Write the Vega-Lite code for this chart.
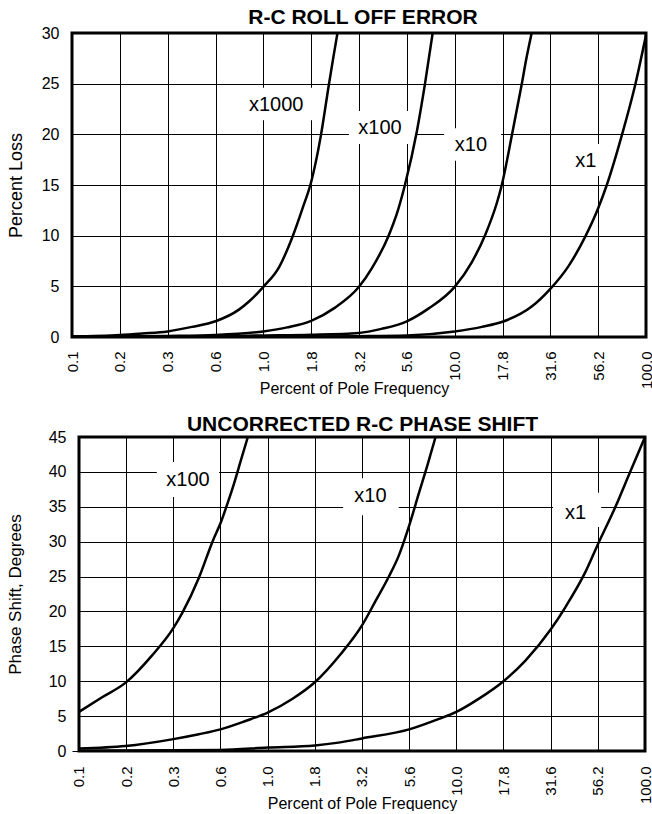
{
  "$schema": "https://vega.github.io/schema/vega-lite/v6.json",
  "padding": {"left": 5, "top": 5, "right": 0, "bottom": 0},
  "spacing": 16,
  "datasets": {
    "loss": [
      {"s": "x1000", "i": 0, "v": 0.05}, {"s": "x1000", "i": 1, "v": 0.2}, {"s": "x1000", "i": 1.47, "v": 0.35}, {"s": "x1000", "i": 2, "v": 0.55}, {"s": "x1000", "i": 2.51, "v": 1.0}, {"s": "x1000", "i": 3, "v": 1.55}, {"s": "x1000", "i": 3.49, "v": 2.7}, {"s": "x1000", "i": 3.7, "v": 3.5}, {"s": "x1000", "i": 4, "v": 4.95}, {"s": "x1000", "i": 4.33, "v": 6.9}, {"s": "x1000", "i": 4.61, "v": 9.9}, {"s": "x1000", "i": 4.82, "v": 12.7}, {"s": "x1000", "i": 5, "v": 15.3}, {"s": "x1000", "i": 5.2, "v": 19.8}, {"s": "x1000", "i": 5.37, "v": 24.9}, {"s": "x1000", "i": 5.46, "v": 27.5}, {"s": "x1000", "i": 5.55, "v": 30},
      {"s": "x100", "i": 0, "v": 0.02}, {"s": "x100", "i": 1, "v": 0.05}, {"s": "x100", "i": 2, "v": 0.1}, {"s": "x100", "i": 3, "v": 0.2}, {"s": "x100", "i": 4, "v": 0.55}, {"s": "x100", "i": 4.5, "v": 0.95}, {"s": "x100", "i": 5, "v": 1.6}, {"s": "x100", "i": 5.5, "v": 2.9}, {"s": "x100", "i": 6, "v": 4.95}, {"s": "x100", "i": 6.27, "v": 6.8}, {"s": "x100", "i": 6.61, "v": 9.9}, {"s": "x100", "i": 6.82, "v": 12.6}, {"s": "x100", "i": 6.96, "v": 15}, {"s": "x100", "i": 7.21, "v": 20.3}, {"s": "x100", "i": 7.38, "v": 25}, {"s": "x100", "i": 7.54, "v": 30},
      {"s": "x10", "i": 0, "v": 0.02}, {"s": "x10", "i": 2, "v": 0.03}, {"s": "x10", "i": 4, "v": 0.15}, {"s": "x10", "i": 5, "v": 0.22}, {"s": "x10", "i": 6, "v": 0.4}, {"s": "x10", "i": 6.47, "v": 0.8}, {"s": "x10", "i": 7, "v": 1.55}, {"s": "x10", "i": 7.45, "v": 2.8}, {"s": "x10", "i": 8, "v": 4.95}, {"s": "x10", "i": 8.36, "v": 7.4}, {"s": "x10", "i": 8.64, "v": 10.1}, {"s": "x10", "i": 8.88, "v": 13.2}, {"s": "x10", "i": 8.98, "v": 14.9}, {"s": "x10", "i": 9.2, "v": 20}, {"s": "x10", "i": 9.4, "v": 24.9}, {"s": "x10", "i": 9.5, "v": 27.5}, {"s": "x10", "i": 9.61, "v": 30},
      {"s": "x1", "i": 0, "v": 0.02}, {"s": "x1", "i": 4, "v": 0.03}, {"s": "x1", "i": 6, "v": 0.08}, {"s": "x1", "i": 7, "v": 0.15}, {"s": "x1", "i": 8, "v": 0.55}, {"s": "x1", "i": 8.57, "v": 1.0}, {"s": "x1", "i": 9, "v": 1.5}, {"s": "x1", "i": 9.61, "v": 3.0}, {"s": "x1", "i": 10, "v": 4.75}, {"s": "x1", "i": 10.38, "v": 7.0}, {"s": "x1", "i": 10.73, "v": 9.9}, {"s": "x1", "i": 11, "v": 12.7}, {"s": "x1", "i": 11.18, "v": 15}, {"s": "x1", "i": 11.5, "v": 20}, {"s": "x1", "i": 11.78, "v": 25}, {"s": "x1", "i": 12, "v": 29.8}
    ],
    "lossLabels": [
      {"label": "x1000", "x1": 3.6, "x2": 5.06, "y1": 24.6, "y2": 21.4, "tx": 4.27, "ty": 22.3},
      {"label": "x100", "x1": 5.79, "x2": 7.21, "y1": 22.3, "y2": 19.05, "tx": 6.44, "ty": 20.07},
      {"label": "x10", "x1": 7.78, "x2": 8.97, "y1": 20.6, "y2": 17.4, "tx": 8.34, "ty": 18.4},
      {"label": "x1", "x1": 10.35, "x2": 11.23, "y1": 19.05, "y2": 15.9, "tx": 10.74, "ty": 16.8}
    ],
    "phase": [
      {"s": "x100", "i": 0, "v": 5.6}, {"s": "x100", "i": 0.49, "v": 7.7}, {"s": "x100", "i": 0.99, "v": 9.8}, {"s": "x100", "i": 1.55, "v": 13.7}, {"s": "x100", "i": 2, "v": 17.6}, {"s": "x100", "i": 2.19, "v": 19.8}, {"s": "x100", "i": 2.54, "v": 24.8}, {"s": "x100", "i": 2.83, "v": 30}, {"s": "x100", "i": 3.02, "v": 33.0}, {"s": "x100", "i": 3.14, "v": 35.3}, {"s": "x100", "i": 3.29, "v": 38.4}, {"s": "x100", "i": 3.43, "v": 41.6}, {"s": "x100", "i": 3.58, "v": 45},
      {"s": "x10", "i": 0, "v": 0.35}, {"s": "x10", "i": 0.99, "v": 0.7}, {"s": "x10", "i": 2, "v": 1.7}, {"s": "x10", "i": 2.54, "v": 2.4}, {"s": "x10", "i": 3, "v": 3.1}, {"s": "x10", "i": 3.53, "v": 4.3}, {"s": "x10", "i": 4, "v": 5.5}, {"s": "x10", "i": 4.52, "v": 7.45}, {"s": "x10", "i": 5, "v": 9.85}, {"s": "x10", "i": 5.55, "v": 13.9}, {"s": "x10", "i": 6, "v": 18.0}, {"s": "x10", "i": 6.28, "v": 21.4}, {"s": "x10", "i": 6.57, "v": 25.0}, {"s": "x10", "i": 6.78, "v": 28.0}, {"s": "x10", "i": 7, "v": 32.3}, {"s": "x10", "i": 7.2, "v": 36.8}, {"s": "x10", "i": 7.38, "v": 40.8}, {"s": "x10", "i": 7.56, "v": 45},
      {"s": "x1", "i": 0, "v": 0.05}, {"s": "x1", "i": 3, "v": 0.15}, {"s": "x1", "i": 4, "v": 0.5}, {"s": "x1", "i": 5, "v": 0.8}, {"s": "x1", "i": 5.5, "v": 1.2}, {"s": "x1", "i": 6, "v": 1.8}, {"s": "x1", "i": 7, "v": 3.1}, {"s": "x1", "i": 7.63, "v": 4.6}, {"s": "x1", "i": 8, "v": 5.6}, {"s": "x1", "i": 8.48, "v": 7.5}, {"s": "x1", "i": 9, "v": 10.0}, {"s": "x1", "i": 9.47, "v": 13.0}, {"s": "x1", "i": 10, "v": 17.4}, {"s": "x1", "i": 10.32, "v": 20.7}, {"s": "x1", "i": 10.74, "v": 25.7}, {"s": "x1", "i": 11, "v": 29.6}, {"s": "x1", "i": 11.38, "v": 35.1}, {"s": "x1", "i": 11.66, "v": 39.6}, {"s": "x1", "i": 12, "v": 45}
    ],
    "phaseLabels": [
      {"label": "x100", "x1": 1.65, "x2": 2.97, "y1": 41.4, "y2": 36.4, "tx": 2.31, "ty": 37.97},
      {"label": "x10", "x1": 5.6, "x2": 6.78, "y1": 39.1, "y2": 33.8, "tx": 6.18, "ty": 35.7},
      {"label": "x1", "x1": 10.05, "x2": 11.07, "y1": 37, "y2": 32.1, "tx": 10.53, "ty": 33.3}
    ],
    "phaseFrame": [
      {"part": "cover", "x1": -0.1484, "x2": 0, "y1": 0, "y2": 45},
      {"part": "frame", "x1": 0, "x2": 12, "y1": 0, "y2": 45}
    ]
  },
  "vconcat": [
    {
      "title": {"text": "R-C ROLL OFF ERROR", "offset": -3, "dx": 4},
      "width": 574,
      "height": 304,
      "encoding": {
        "x": {"type": "quantitative", "scale": {"domain": [0, 12], "nice": false, "zero": false},
          "axis": {"values": [0,1,2,3,4,5,6,7,8,9,10,11,12], "labelExpr": "['0.1','0.2','0.3','0.6','1.0','1.8','3.2','5.6','10.0','17.8','31.6','56.2','100.0'][datum.value]", "labelAngle": -90, "labelFontSize": 15, "labelPadding": 14, "labelFlush": false, "labelOverlap": false, "title": "Percent of Pole Frequency", "titleFontSize": 16, "titleY": 56, "titleX": 282, "titleBaseline": "alphabetic"}},
        "y": {"type": "quantitative", "scale": {"domain": [0, 30], "nice": false},
          "axis": {"values": [0,5,10,15,20,25,30], "labelFontSize": 16, "labelPadding": 13, "labelFlush": false, "labelOverlap": false, "title": "Percent Loss", "titleFontSize": 18, "titlePadding": 16}}
      },
      "layer": [
        {
          "data": {"name": "lossLabels"},
          "mark": {"type": "rect", "color": "white"},
          "encoding": {
            "x": {"field": "x1"},
            "x2": {"field": "x2"},
            "y": {"field": "y1"},
            "y2": {"field": "y2"}
          }
        },
        {
          "data": {"name": "loss"},
          "mark": {"type": "line", "color": "black", "strokeWidth": 2.5, "interpolate": "monotone", "clip": true},
          "encoding": {
            "x": {"field": "i"},
            "y": {"field": "v"},
            "detail": {"field": "s"}
          }
        },
        {
          "data": {"name": "lossLabels"},
          "mark": {"type": "text", "fontSize": 20, "baseline": "alphabetic", "align": "center", "color": "black"},
          "encoding": {
            "x": {"field": "tx"},
            "y": {"field": "ty"},
            "text": {"field": "label"}
          }
        }
      ]
    },
    {
      "title": {"text": "UNCORRECTED R-C PHASE SHIFT", "offset": -6, "dx": 4},
      "width": 573,
      "height": 314,
      "view": {"stroke": null},
      "encoding": {
        "x": {"type": "quantitative", "scale": {"domain": [-0.1484, 12], "nice": false, "zero": false},
          "axis": {"values": [0,1,2,3,4,5,6,7,8,9,10,11,12], "labelExpr": "['0.1','0.2','0.3','0.6','1.0','1.8','3.2','5.6','10.0','17.8','31.6','56.2','100.0'][datum.value]", "labelAngle": -90, "labelFontSize": 15, "labelPadding": 15, "labelFlush": false, "labelOverlap": false, "title": "Percent of Pole Frequency", "titleFontSize": 16, "titleY": 57, "titleX": 290, "titleBaseline": "alphabetic"}},
        "y": {"type": "quantitative", "scale": {"domain": [0, 45], "nice": false},
          "axis": {"values": [0,5,10,15,20,25,30,35,40,45], "labelFontSize": 16, "labelPadding": 6, "labelFlush": false, "labelOverlap": false, "title": "Phase Shift, Degrees", "titleFontSize": 17, "titlePadding": 24}}
      },
      "layer": [
        {
          "data": {"name": "phaseLabels"},
          "mark": {"type": "rect", "color": "white"},
          "encoding": {
            "x": {"field": "x1"},
            "x2": {"field": "x2"},
            "y": {"field": "y1"},
            "y2": {"field": "y2"}
          }
        },
        {
          "data": {"name": "phaseFrame"},
          "transform": [{"filter": "datum.part == 'cover'"}],
          "mark": {"type": "rect", "color": "white"},
          "encoding": {
            "x": {"field": "x1"},
            "x2": {"field": "x2"},
            "y": {"field": "y1"},
            "y2": {"field": "y2"}
          }
        },
        {
          "data": {"name": "phase"},
          "mark": {"type": "line", "color": "black", "strokeWidth": 2.5, "interpolate": "monotone", "clip": true},
          "encoding": {
            "x": {"field": "i"},
            "y": {"field": "v"},
            "detail": {"field": "s"}
          }
        },
        {
          "data": {"name": "phaseFrame"},
          "transform": [{"filter": "datum.part == 'frame'"}],
          "mark": {"type": "rect", "fill": null, "fillOpacity": 0, "stroke": "black", "strokeWidth": 3},
          "encoding": {
            "x": {"field": "x1"},
            "x2": {"field": "x2"},
            "y": {"field": "y1"},
            "y2": {"field": "y2"}
          }
        },
        {
          "data": {"name": "phaseLabels"},
          "mark": {"type": "text", "fontSize": 20, "baseline": "alphabetic", "align": "center", "color": "black"},
          "encoding": {
            "x": {"field": "tx"},
            "y": {"field": "ty"},
            "text": {"field": "label"}
          }
        }
      ]
    }
  ],
  "config": {
    "font": "Liberation Sans",
    "background": "white",
    "view": {"stroke": "black", "strokeWidth": 3},
    "axis": {"gridColor": "black", "gridOpacity": 1, "gridWidth": 1, "domain": false, "ticks": false, "labelColor": "black", "titleColor": "black", "titleFontWeight": "normal", "labelFont": "Liberation Sans", "titleFont": "Liberation Sans"},
    "title": {"fontSize": 21, "fontWeight": "bold", "color": "black", "font": "Liberation Sans"}
  }
}
